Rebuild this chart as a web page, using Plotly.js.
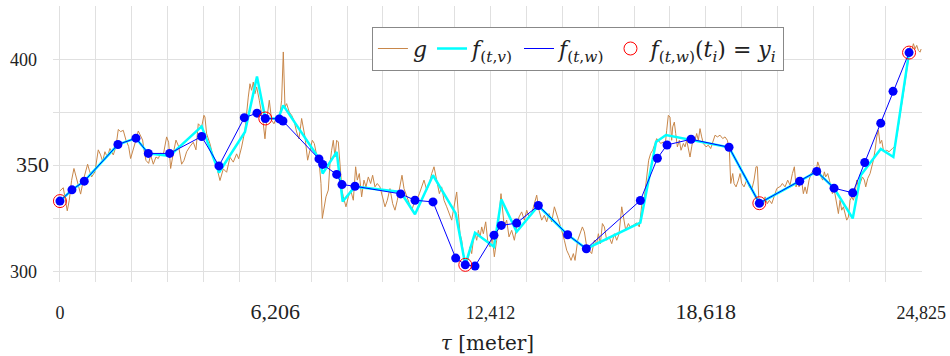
<!DOCTYPE html>
<html>
<head>
<meta charset="utf-8">
<script src="https://cdn.plot.ly/plotly-3.0.1.min.js"></script>
<style>body{margin:0;background:#fff}</style>
</head>
<body>
<div id="chart" style="width:950px;height:356px"></div>
<script>
// ---- g (measured profile) ----
const gX = [0,96,144,211,269,336,404,461,529,596,673,750,798,846,913,1009,1105,1172,1230,1297,1365,1441,1538,1615,1682,1749,1826,1903,1980,2037,2114,2191,2258,2326,2383,2422,2480,2557,2614,2691,2768,2835,2902,2979,3075,3133,3191,3268,3345,3422,3508,3575,3652,3748,3844,3921,
3988,4084,4151,4180,4228,4324,4420,4497,4565,4613,4709,4805,4901,4997,5093,5151,5237,5333,5429,5478,5526,5574,5622,5670,5747,5814,5862,5910,5958,6035,6102,6169,6246,6323,6390,6439,6487,6535,6611,6679,6746,6823,6890,6948,
6967,7063,7140,7207,7275,7332,7400,7467,7525,7563,7621,7669,7736,7784,7832,7880,7928,7976,8024,8082,8130,
8169,8245,8313,8380,8457,8524,8572,8630,8697,8764,8822,8889,8956,9014,9081,9148,9225,9302,9370,9437,9514,9591,9658,9725,9802,9860,9918,9995,10072,10139,10207,10284,10361,10428,10495,10572,10649,10716,10783,10860,10937,11004,11072,11149,11226,11293,11360,11437,11485,11533,11581,11629,11677,11725,11773,11821,11869,11917,11965,12013,12061,12110,12158,12206,12273,
12330,12397,12464,12522,12589,12656,12714,12752,12810,12877,12945,13022,13099,13166,13233,13310,13387,13455,13522,13599,13676,13743,13810,13887,13964,14031,14099,14176,14253,14320,14387,14464,14541,14608,14676,14733,14800,14848,14925,14993,15060,15118,15185,15252,15329,15406,15473,15521,15579,15637,15694,15762,15829,15906,15983,16050,16117,16194,16252,16310,16387,
16433,16529,16625,16702,16741,16798,16837,16894,16933,16971,17029,17087,17154,17202,17250,17317,17394,17442,17490,17538,17586,17634,17663,17711,17750,17798,17855,17903,17971,18019,18067,18115,18163,18211,18259,18307,18355,18403,18451,18499,18547,18624,18691,18759,18836,18884,18951,19028,19105,19172,19240,19297,19336,19394,19432,19490,19557,19605,19653,19720,19797,19874,19941,20008,20066,20105,20143,20181,20230,20278,20326,20393,20451,20518,20585,20662,20739,
20757,20825,20902,20979,21046,21114,21171,21219,21267,21306,21364,21431,21479,21527,21594,21652,21719,21786,21844,21892,21940,21988,22036,22074,22132,22180,22228,22267,22315,22363,22401,22440,22488,22536,22584,22632,22680,22728,22776,22824,22872,22920,22968,23016,23064,23132,23189,23228,23286,23353,23401,23449,23497,23545,23593,23641,23689,23737,23785,23833,23900,23958,23996,24054,24102,24150,24189,24227,24265,24304,24342,24381,24419,24458,24506,24554,24602,24650,24698,24746,24794,24825];
const gY = [338,339.5,335,328.6,333.6,343,348.6,344.6,340,336.5,343,347,350.6,347.8,344.6,347,357.4,355,351.9,356.5,354,358,355,359,367,366,366.6,362,359,353.3,357.4,362,366.3,363.5,362,357.4,352.4,351,355,350.6,354,353.3,355.8,355,363.5,361,348.6,355.8,362,359,350.6,352.4,356.5,359,361,357.4,
369.7,368.1,373.7,372.9,365,360.3,353.9,350.8,346,342.9,348.4,346.8,353.9,351.6,355.5,353.2,358.7,366.6,382.3,388.6,385.5,389.4,383.9,387.1,380.8,374.4,369.7,362.6,371.3,380.8,371.3,369.7,372.9,371.3,380.8,403.6,377.6,379.2,375.2,373.7,371.3,365.8,362.6,369.7,
372.2,363.5,352.5,357.2,361.9,360.4,354.9,352.5,341.5,325,332,335.2,338.4,350.9,357.2,361.9,354,361.9,361.1,347.8,338.4,
335.2,330.5,335.2,338.4,333.6,349.4,343.1,346.2,335.2,343.1,339.9,344.6,341.5,345.4,339.9,341.5,339.9,335.2,330.5,333.6,339.1,332,328.9,333.6,339.9,345.4,339.1,335.2,331.2,328.9,332,333.6,336.7,339.9,343.1,338.4,341.5,346.2,349.4,343.1,336.7,339.9,333.6,330.5,327.3,324.2,330.5,337.5,327.3,317.8,314.7,308.4,305.2,304.5,306,311.6,308.4,314.7,317.8,314.7,319.4,316.3,321,317.8,323.4,
314.7,311.6,316.3,306.9,314.7,325.7,336.7,330.5,321,324.2,316.3,319.4,314.7,321,325.7,328.1,324.2,328.9,325.7,327.3,332,336,328.9,324.2,326.5,323.4,327.3,323.4,330.5,327.3,323.4,319.4,314.7,310,307.6,305.2,308.4,305.2,314.7,317.8,321,318.7,311.6,310,308.4,314.7,313.1,317.8,313.1,322.6,321,314.7,316.3,313.1,317.8,314.7,317.8,330.5,325.7,319.4,322.6,
321,321.8,322.9,321,327.3,335.2,333.6,343.1,346.2,352.5,355.7,357.2,360.4,362.7,361.9,360.4,361.1,358.8,366.6,373.7,372.9,361.9,368.2,370.5,365.1,358.8,361.9,357.2,360.4,358.8,361.9,357.2,354,358.8,363.5,361.9,365.1,361.9,367.4,363.5,360.4,358.8,359.6,358,361.9,364.3,363.5,364.3,362.7,363.5,361.9,357.2,341.5,346.2,341.5,339.9,343.1,346.2,341.5,339.9,343.1,339.9,338.4,343.1,349.4,349.4,335.2,332,333.6,331.2,335.2,332,333.6,332,335.2,339.1,339.9,
339.9,341.5,339.9,343.1,340.7,346.2,349.4,339.9,343.1,339.9,344.6,336.7,339.9,336.7,343.1,346.2,347.8,346.2,351.7,349.4,344.6,343.1,347,344.6,346.2,343.1,339.9,336.7,339.1,335.2,330.5,327.3,333.6,328.9,330.5,327.3,324.2,325.7,333.6,335.2,333.6,336.7,343.1,339.9,341.5,344.6,343.1,339.9,343.9,346.2,349.4,352.5,357.2,363.5,366.6,360.4,361.9,357.2,356.5,357.2,356.5,357.2,358,358.8,361.9,366.6,371.3,374.4,379.2,383.1,387.1,391.8,396.5,401.2,405.9,404.3,407.5,405.1,406.7,404.3,403.5,405];

// ---- f_(t,v) ----
const vX = [0,346,701,1672,2191,2547,3162,4085,4584,5333,5680,5920,6294,6438,7467,7573,7977,8150,8505,9822,10235,10754,11408,11685,11965,12512,12723,13166,13791,14636,15174,16731,17183,17471,19287,20161,21325,21816,22314,22853,23084,23661,24024,24477];
const vY = [333.2,338.5,342.6,359.9,362.9,355.7,354.5,368.5,346.7,365.8,392,372.2,372.2,378.4,353.3,346.2,356.4,333,340,337.5,327,345.4,327.4,303.1,318.2,311.6,334,318.7,331,317.3,310.7,323,361.1,364.4,358.6,332.2,342.6,347.2,339.3,325,345.4,357.8,354,403.3];

// ---- f_(t,w) ----
const wX = [0,346,701,1672,2191,2547,3162,4085,4584,5315,5680,5920,6323,6429,7467,7573,7977,8130,8505,9822,10235,10754,11408,11685,11965,12512,12723,13166,13791,14636,15174,16731,17221,17500,18192,19287,20161,21325,21816,22314,22853,23199,23661,24015,24477];
const wY = [333.2,338.5,342.6,359.9,362.9,355.7,355.7,363.7,349.8,372.6,374.7,372.2,372,371,353.1,350.5,345.8,341,340.2,336.6,333.6,332.8,306.3,303.1,302.5,317.1,321.7,322.8,331.1,317.3,310.7,333.5,353.4,359.7,362.4,358.6,332.2,342.6,347.2,339.3,337.1,351.4,370,385,403.3];

// ---- f_(t,w)(t_i) = y_i ----
const tiX = [0,5920,11685,20161,24477];
const tiY = [333.2,372.2,303.1,332.2,403.3];

// ---- ticks ----
const xTickVals = [0,6206.25,12412.5,18618.75,24825];
const xTickText = ['0','6,206','12,412','18,618','24,825'];
const xTickSize = [18,22,18,22,18];
const yTickVals = [300,350,400];
const yTickText = ['300','350','400'];
const yTickSize = [18,22,18];

const serif = 'Liberation Serif';
const serif2 = 'DejaVu Serif';

const traces = [
  {x:gX, y:gY, mode:'lines', name:'<i>g</i>', line:{color:'#c8874a', width:1}},
  {x:vX, y:vY, mode:'lines', name:'<i>f</i><sub>(<i>t</i>,<i>v</i>)</sub>', line:{color:'#00ffff', width:2.5}},
  {x:wX, y:wY, mode:'lines', name:'<i>f</i><sub>(<i>t</i>,<i>w</i>)</sub>', line:{color:'#0000ff', width:1}},
  {x:wX, y:wY, mode:'markers', showlegend:false, marker:{color:'#0000ff', size:9}},
  {x:tiX, y:tiY, mode:'markers', name:'<i>f</i><sub>(<i>t</i>,<i>w</i>)</sub>(<i>t</i><sub><i>i</i></sub>) = <i>y</i><sub><i>i</i></sub>',
   marker:{symbol:'circle-open', color:'#ff0000', size:13, line:{width:1}}}
];

const layout = {
  width:950, height:356,
  margin:{l:53, r:28, t:6, b:74},
  paper_bgcolor:'#fff', plot_bgcolor:'#fff',
  font:{family:serif, color:'#222'},
  showlegend:true,
  legend:{orientation:'h', x:0.367, y:0.925, xanchor:'left', yanchor:'top',
          bgcolor:'#fff', bordercolor:'#888', borderwidth:1,
          font:{family:serif2, size:22, color:'#222'}},
  xaxis:{
    range:[-200,24850], tickmode:'array', tickvals:xTickVals,
    ticktext:xTickText.map((t,i)=>'<span style="font-size:'+xTickSize[i]+'px">'+t+'</span>'),
    tickfont:{family:serif, size:18, color:'#222'},
    ticks:'', ticklabelstandoff:18,
    showgrid:true, gridcolor:'#e0e0e0', gridwidth:1,
    minor:{tickmode:'linear', tick0:0, dtick:1034.375, showgrid:true, gridcolor:'#e0e0e0', gridwidth:1, ticks:''},
    zeroline:false, showline:false,
    title:{text:'<i>τ</i> [meter]', font:{family:serif2, size:20, color:'#222'}, standoff:12}
  },
  yaxis:{
    range:[295,425.3], tickmode:'array', tickvals:yTickVals,
    ticktext:yTickText.map((t,i)=>'<span style="font-size:'+yTickSize[i]+'px">'+t+'</span>' + (yTickSize[i]<20 ? '<span style="font-size:24px">\u00a0\u00a0</span>' : '')),
    tickfont:{family:serif, size:18, color:'#222'},
    ticks:'', ticklabelstandoff:3,
    showgrid:true, gridcolor:'#e0e0e0', gridwidth:1,
    minor:{tickmode:'linear', tick0:300, dtick:25, showgrid:true, gridcolor:'#e0e0e0', gridwidth:1, ticks:''},
    zeroline:false, showline:false
  }
};

Plotly.newPlot('chart', traces, layout, {displayModeBar:false, staticPlot:true});
</script>
</body>
</html>
